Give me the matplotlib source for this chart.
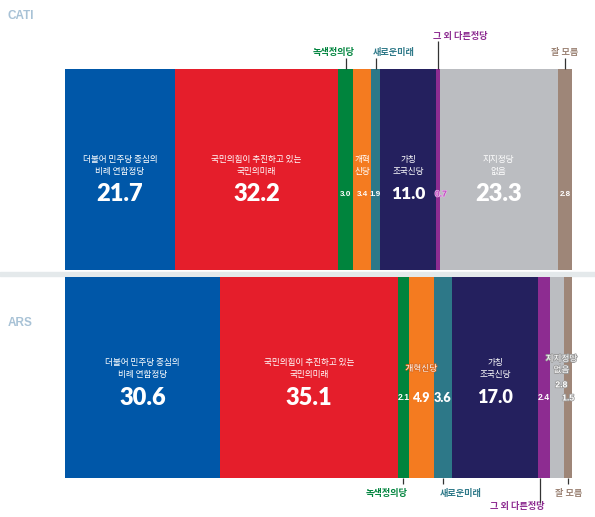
import matplotlib
matplotlib.use('Agg')
import matplotlib.pyplot as plt
import matplotlib.patheffects as pe
import numpy as np

parties = ['더불어 민주당 중심의 비례 연합정당', '국민의미래', '녹색정의당', '개혁신당',
           '새로운미래', '가칭 조국신당', '그 외 다른정당', '지지정당 없음', '잘 모름']
cati = [21.7, 32.2, 3.0, 3.4, 1.9, 11.0, 0.7, 23.3, 2.8]
ars = [30.6, 35.1, 2.1, 4.9, 3.6, 17.0, 2.4, 2.8, 1.5]
surveys = ['CATI', 'ARS']

colors = ['#0057A8', '#E51E2B', '#00843D', '#F47B20', '#2D7888',
          '#24205E', '#8D2C91', '#BBBDC1', '#9E8678']
kr = 'Noto Sans CJK KR'
num_font = 'Lato'
small_font = 'Liberation Sans'

fig = plt.figure(figsize=(5.95, 5.17), dpi=100)
# grey divider between the two surveys
fig.add_artist(plt.Rectangle((0, 1 - 276/517), 1, 4/517, transform=fig.transFigure,
                             color='#E4E9EB', zorder=0))
ax = fig.add_axes([65/595, 0, 507/595, 1])
ax.set_xlim(0, 100)
ax.set_ylim(1.667, -0.813)
ax.axis('off')

h = 0.964
for row, vals in enumerate([cati, ars]):
    lefts = np.concatenate([[0], np.cumsum(vals)[:-1]])
    ax.barh(row, vals, left=lefts, height=h, color=colors, edgecolor='none')

fig.text(8/595, 1 - 16/517, surveys[0], color='#A8C2D6', fontsize=8.5, weight='bold',
         family='Liberation Sans', va='center')
fig.text(8/595, 1 - 323/517, surveys[1], color='#A8C2D6', fontsize=8.5, weight='bold',
         family='Liberation Sans', va='center')

def mid(vals, i):
    return sum(vals[:i]) + vals[i] / 2

# ---- CATI row ----
ly, ny = -0.02, 0.118
names_top = {0: '더불어 민주당 중심의\n비례 연합정당', 1: '국민의힘이 추진하고 있는\n국민의미래',
             3: '개혁\n신당', 5: '가칭\n조국신당', 7: '지지정당\n없음'}
for i, s in names_top.items():
    ax.text(mid(cati, i), ly, s, color='white', fontsize=6.2, family=kr, ha='center',
            va='center', linespacing=1.45)
big_top = {0: 17, 1: 17, 5: 12.5, 7: 17}
for i, v in enumerate(cati):
    if i in big_top:
        ax.text(mid(cati, i), ny, f'{v:.1f}', color='white', fontsize=big_top[i],
                weight='heavy', family=num_font, ha='center', va='center')
    elif i == 6:
        ax.text(mid(cati, i) + 0.6, ny, f'{v:.1f}', color='#C04FC0', fontsize=6.2,
                weight='bold', family=small_font, ha='center', va='center',
                path_effects=[pe.withStroke(linewidth=1, foreground='#E9B8E9')])
    else:
        ax.text(mid(cati, i), ny, f'{v:.1f}', color='white', fontsize=5.8, weight='bold',
                family=small_font, ha='center', va='center')

# ---- ARS row ----
ly2, ny2 = 0.954, 1.096
outline = [pe.withStroke(linewidth=1.2, foreground='#9A9A9A')]
names_bot = {0: '더불어 민주당 중심의\n비례 연합정당', 1: '국민의힘이 추진하고 있는\n국민의미래',
             5: '가칭\n조국신당'}
for i, s in names_bot.items():
    ax.text(mid(ars, i), ly2, s, color='white', fontsize=6.2, family=kr, ha='center',
            va='center', linespacing=1.45)
ax.text(mid(ars, 7) + 0.8, 0.935, '지지정당\n없음', color='white', fontsize=6.2, family=kr,
        ha='center', va='center', linespacing=1.3, path_effects=outline)
ax.text(mid(ars, 3), 0.955, '개혁신당', color='white', fontsize=6.2, family=kr,
        ha='center', va='center', path_effects=[pe.withStroke(linewidth=1, foreground='#D9661A')])
big_bot = {0: 17, 1: 17, 5: 13}
mid_bot = {3: 9, 4: 9}
for i, v in enumerate(ars):
    x, y = mid(ars, i), ny2
    if i in big_bot:
        ax.text(x, y, f'{v:.1f}', color='white', fontsize=big_bot[i], weight='heavy',
                family=num_font, ha='center', va='center')
    elif i in mid_bot:
        ax.text(x, y, f'{v:.1f}', color='white', fontsize=mid_bot[i], weight='heavy',
                family=num_font, ha='center', va='center')
    else:
        pe_s = outline if i in (7, 8) else None
        if i == 7:
            x, y = mid(ars, i) + 0.8, 1.033
        ax.text(x, y, f'{v:.1f}', color='white', fontsize=6.2, weight='bold',
                family=small_font, ha='center', va='center', path_effects=pe_s)

# ---- leader labels ----
top_edge, bot_edge = -h/2, 1 + h/2
callouts_top = [(2, -0.535, -0.559, -2.5, '#00843D'),
                (4, -0.535, -0.559, 3.5, '#2D7888'),
                (6, -0.616, -0.640, 4.5, '#8D2C91'),
                (8, -0.535, -0.559, 0.0, '#9E8678')]
for i, yl, yt, dx, c in callouts_top:
    x = mid(cati, i)
    ax.plot([x, x], [top_edge, yl], color='#333333', lw=0.9, solid_capstyle='butt')
    ax.text(x + dx, yt, parties[i], color=c, fontsize=6.6, family=kr, weight='bold',
            ha='center', va='center')

callouts_bot = [(2, 1.508, 1.556, -3.4, '#00843D'),
                (4, 1.508, 1.556, 3.6, '#2D7888'),
                (6, 1.600, 1.619, -4.5, '#8D2C91'),
                (8, 1.508, 1.556, 0.0, '#9E8678')]
for i, yl, yt, dx, c in callouts_bot:
    x = mid(ars, i) - (0.8 if i == 6 else 0)
    ax.plot([x, x], [bot_edge, yl], color='#333333', lw=0.9, solid_capstyle='butt')
    ax.text(x + dx, yt, parties[i], color=c, fontsize=6.6, family=kr, weight='bold',
            ha='center', va='center')

fig.savefig('out.png', dpi=100)
